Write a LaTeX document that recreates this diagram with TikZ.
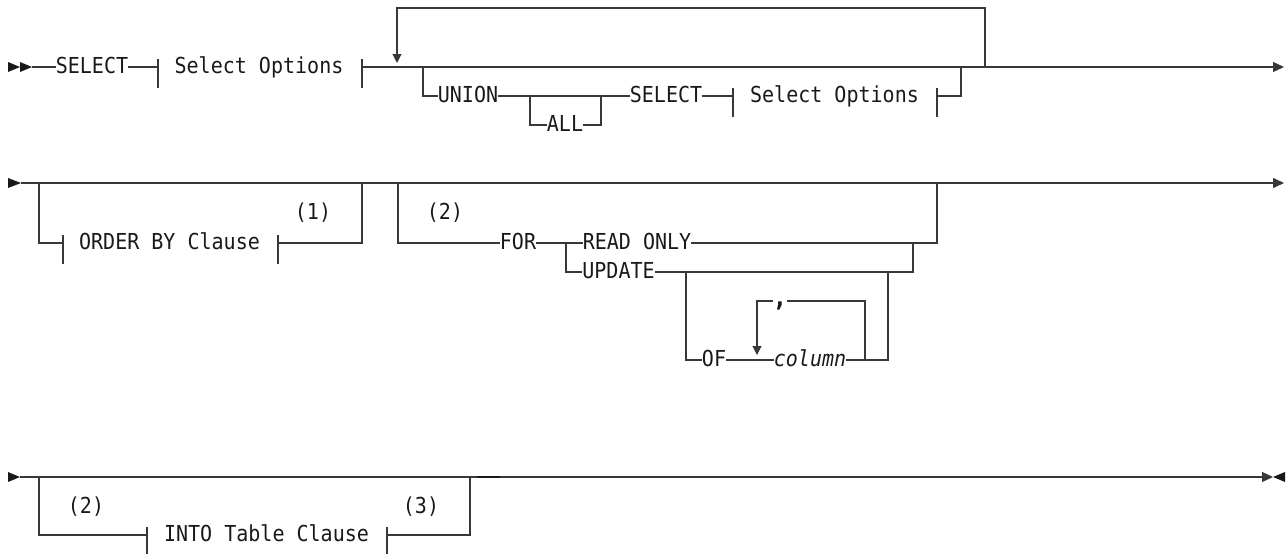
\documentclass[tikz,border=0pt]{standalone}
\usepackage{fontspec}
\newfontfamily\synfont{DejaVu Sans Mono}[FakeStretch=0.91]
\usetikzlibrary{arrows.meta}
\begin{document}
\begin{tikzpicture}[x=1pt,y=-1pt,
  rail/.style={draw=black!78, line width=1.1pt},
  kw/.style={inner sep=0pt, text height=13pt, text depth=0pt,
    font=\fontsize{22}{26}\selectfont\synfont, text=black!90},
  note/.style={inner sep=0pt, font=\fontsize{22}{26}\selectfont\synfont, text=black!90},
  endtip/.style={-{Triangle[length=11pt,width=10pt]}},
  looptip/.style={-{Triangle[length=9pt,width=9pt]}},
  marker/.style={fill=black!90, draw=none}]
\useasboundingbox (0,0) rectangle (1286,554);

% ---------------- Row 1 ----------------
\coordinate (s1) at (32,67);
\node[kw] (SEL1) at (92,67) {SELECT};
\coordinate (t1a) at (158,67);
\node[kw] (SO1) at (259,67) {Select Options};
\coordinate (t1b) at (362,67);
\coordinate (loopL) at (397,63);
\coordinate (loopTL) at (397,8);
\coordinate (loopTR) at (985,8);
\coordinate (loopR) at (985,67);
\coordinate (u1) at (423,67);
\coordinate (u1d) at (423,96);
\node[kw] (UNION) at (468,96) {UNION};
\coordinate (a1) at (530,96);
\coordinate (a1d) at (530,125);
\node[kw] (ALL) at (565,125) {ALL};
\coordinate (a2) at (601,96);
\coordinate (a2d) at (601,125);
\node[kw] (SEL2) at (666,96) {SELECT};
\coordinate (t2a) at (733,96);
\node[kw] (SO2) at (834.5,96) {Select Options};
\coordinate (t2b) at (937,96);
\coordinate (u2) at (961,96);
\coordinate (u2u) at (961,67);
\coordinate (e1) at (1284,67);

\fill[marker] (8,62) -- (20,67) -- (8,72) -- cycle;
\fill[marker] (20,62) -- (32,67) -- (20,72) -- cycle;
\draw[rail] (s1) -- (SEL1.west);
\draw[rail] (SEL1.east) -- (t1a);
\draw[rail] ([yshift=8pt]t1a) -- ([yshift=-21pt]t1a);
\draw[rail] ([yshift=8pt]t1b) -- ([yshift=-21pt]t1b);
\draw[rail,endtip] (t1b) -- (e1);
\draw[rail,looptip] (loopR) -- (loopTR) -- (loopTL) -- (loopL);
\draw[rail] (u1) -- (u1d) -- (UNION.west);
\draw[rail] (UNION.east) -- (SEL2.west);
\draw[rail] (a1) -- (a1d) -- (ALL.west);
\draw[rail] (ALL.east) -- (a2d) -- (a2);
\draw[rail] (SEL2.east) -- (t2a);
\draw[rail] ([yshift=8pt]t2a) -- ([yshift=-21pt]t2a);
\draw[rail] ([yshift=8pt]t2b) -- ([yshift=-21pt]t2b);
\draw[rail] (t2b) -- (u2) -- (u2u);

% ---------------- Row 2 ----------------
\coordinate (s2) at (21,183);
\coordinate (e2) at (1284,183);
\coordinate (o1) at (39,183);
\coordinate (o1d) at (39,243);
\coordinate (t3a) at (63,243);
\node[kw] (OBC) at (169.5,243) {ORDER BY Clause};
\coordinate (t3b) at (278,243);
\coordinate (o2d) at (362,243);
\coordinate (o2) at (362,183);
\node[note] (n1) at (313,213) {(1)};
\coordinate (f1) at (398,183);
\coordinate (f1d) at (398,243);
\node[note] (n2) at (445,213) {(2)};
\node[kw] (FOR) at (518,243) {FOR};
\coordinate (r1) at (566,243);
\coordinate (r1d) at (566,272);
\node[kw] (RO) at (637,243) {READ ONLY};
\node[kw] (UPD) at (618.5,272) {UPDATE};
\coordinate (r2d) at (913,272);
\coordinate (r2) at (913,243);
\coordinate (f2d) at (937,243);
\coordinate (f2) at (937,183);
\coordinate (of1) at (686,272);
\coordinate (of1d) at (686,360);
\node[kw] (OF) at (714,360) {OF};
\node[kw] (COL) at (810,360) {\itshape column};
\coordinate (cl) at (757,301);
\coordinate (cla) at (757,355);
\coordinate (cr) at (865,301);
\coordinate (crb) at (865,360);
\node[inner sep=0pt, anchor=base, font=\fontsize{26}{30}\selectfont\synfont\bfseries, text=black!90] (COMMA) at (780,306) {,};
\coordinate (o2r) at (888,360);
\coordinate (o2ru) at (888,272);

\fill[marker] (8,178) -- (21,183) -- (8,188) -- cycle;
\draw[rail,endtip] (s2) -- (e2);
\draw[rail] (o1) -- (o1d) -- (t3a);
\draw[rail] ([yshift=8pt]t3a) -- ([yshift=-21pt]t3a);
\draw[rail] ([yshift=8pt]t3b) -- ([yshift=-21pt]t3b);
\draw[rail] (t3b) -- (o2d) -- (o2);
\draw[rail] (f1) -- (f1d) -- (FOR.west);
\draw[rail] (FOR.east) -- (RO.west);
\draw[rail] (r1) -- (r1d) -- (UPD.west);
\draw[rail] (RO.east) -- (f2d) -- (f2);
\draw[rail] (UPD.east) -- (r2d) -- (r2);
\draw[rail] (of1) -- (of1d) -- (OF.west);
\draw[rail] (OF.east) -- (COL.west);
\draw[rail] (COL.east) -- (o2r) -- (o2ru);
\draw[rail] (crb) -- (cr) -- (COMMA.east |- cr);
\draw[rail,looptip] (COMMA.west |- cl) -- (cl) -- (cla);

% ---------------- Row 3 ----------------
\coordinate (s3) at (20,477);
\coordinate (e3) at (1273,477);
\coordinate (i1) at (39,477);
\coordinate (i1d) at (39,535);
\coordinate (t4a) at (147,535);
\node[kw] (INTO) at (266.5,535) {INTO Table Clause};
\coordinate (t4b) at (387,535);
\coordinate (i2d) at (470,535);
\coordinate (i2) at (470,477);
\node[note] (n3) at (86,507) {(2)};
\node[note] (n4) at (421,507) {(3)};
\coordinate (bk1) at (477,477);
\coordinate (bk2) at (500,477);

\fill[marker] (8,472) -- (20,477) -- (8,482) -- cycle;
\draw[rail,endtip] (s3) -- (e3);
\fill[marker] (1285,472) -- (1273,477) -- (1285,482) -- cycle;
\draw[rail] (i1) -- (i1d) -- (t4a);
\draw[rail] ([yshift=8pt]t4a) -- ([yshift=-21pt]t4a);
\draw[rail] ([yshift=8pt]t4b) -- ([yshift=-21pt]t4b);
\draw[rail] (t4b) -- (i2d) -- (i2);
\draw[draw=black!90, line width=2.4pt] (bk1) -- (bk2);
\end{tikzpicture}
\end{document}
